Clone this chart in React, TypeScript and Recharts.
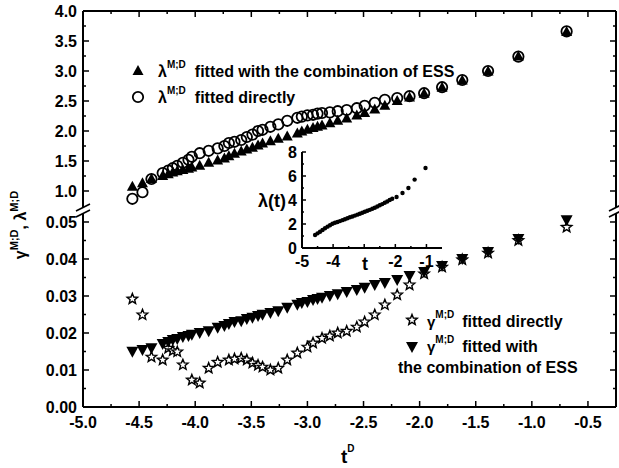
import React from 'react';
import { ScatterChart, Scatter, XAxis, YAxis } from 'recharts';

// t^D grid shared by the four main series
const tD = [
  -4.56, -4.47, -4.39, -4.29, -4.24, -4.2, -4.16, -4.11, -4.06, -4.03,
  -3.96, -3.88, -3.8, -3.74, -3.7, -3.65, -3.59, -3.54, -3.49, -3.44,
  -3.4, -3.33, -3.26, -3.18, -3.09, -3.05, -3.0, -2.95, -2.91, -2.87,
  -2.8, -2.73, -2.65, -2.56, -2.49, -2.4, -2.31, -2.2, -2.09, -1.96,
  -1.8, -1.62, -1.39, -1.12, -0.69,
];
const lambdaESS = [
  1.07, 1.13, 1.2, 1.25, 1.28, 1.31, 1.33, 1.35, 1.37, 1.39,
  1.42, 1.47, 1.51, 1.54, 1.58, 1.62, 1.66, 1.69, 1.72, 1.76,
  1.79, 1.83, 1.87, 1.91, 1.96, 1.99, 2.02, 2.05, 2.07, 2.09,
  2.13, 2.17, 2.21, 2.26, 2.3, 2.36, 2.42, 2.5, 2.56, 2.62,
  2.72, 2.84, 2.99, 3.24, 3.65,
];
const lambdaDirect = [
  0.87, 0.98, 1.2, 1.3, 1.34, 1.38, 1.42, 1.47, 1.52, 1.57,
  1.63, 1.67, 1.71, 1.75, 1.8, 1.82, 1.85, 1.9, 1.94, 2.0,
  2.02, 2.07, 2.11, 2.17, 2.22, 2.24, 2.26, 2.27, 2.29, 2.3,
  2.31, 2.33, 2.35, 2.38, 2.42, 2.47, 2.52, 2.55, 2.58, 2.63,
  2.73, 2.85, 3.0, 3.24, 3.66,
];
const gammaESS = [
  0.0149, 0.0154, 0.0159, 0.017, 0.0176, 0.0181, 0.0184, 0.0189, 0.0192, 0.0195,
  0.02, 0.0205, 0.0214, 0.0219, 0.0224, 0.023, 0.0232, 0.0238, 0.0241, 0.0246,
  0.0249, 0.0254, 0.0259, 0.0268, 0.0276, 0.0281, 0.0284, 0.0289, 0.0292, 0.0295,
  0.03, 0.0305, 0.0311, 0.0316, 0.0322, 0.033, 0.0335, 0.0343, 0.0354, 0.0365,
  0.0381, 0.04, 0.0419, 0.0454, 0.0505,
];
const gammaDirect = [
  0.0292, 0.0249, 0.0135, 0.0127, 0.0159, 0.0152, 0.0149, 0.0114, null, 0.0073,
  0.0065, 0.0105, 0.0121, null, 0.0127, 0.013, 0.0132, 0.0127, 0.0119, 0.0113,
  0.0108, 0.01, 0.0105, 0.0127, 0.0146, null, 0.0162, 0.0173, null, 0.0186,
  0.0192, 0.02, 0.0205, 0.0216, 0.023, 0.0249, 0.0276, 0.0303, 0.033, 0.036,
  0.0378, 0.0398, 0.0416, 0.045, 0.0486,
];

// inset: lambda(t)
const insetT = [
  -4.58, -4.5, -4.42, -4.34, -4.26, -4.18, -4.1, -4.02, -3.94, -3.86,
  -3.78, -3.7, -3.62, -3.54, -3.46, -3.38, -3.3, -3.22, -3.14, -3.06,
  -2.98, -2.9, -2.82, -2.74, -2.66, -2.58, -2.5, -2.42, -2.34, -2.26,
  -2.18, -2.1, -1.96, -1.77, -1.58, -1.38, -1.03,
];
const insetLambda = [
  1.08, 1.22, 1.36, 1.5, 1.64, 1.78, 1.9, 2.02, 2.1, 2.17,
  2.24, 2.32, 2.4, 2.48, 2.56, 2.63, 2.7, 2.78, 2.86, 2.94,
  3.02, 3.1, 3.18, 3.27, 3.36, 3.46, 3.56, 3.66, 3.77, 3.88,
  4.0, 4.1, 4.25, 4.58, 5.0, 5.7, 6.67,
];

// ticks
const xTicks = [-5, -4.75, -4.5, -4.25, -4, -3.75, -3.5, -3.25, -3, -2.75, -2.5, -2.25, -2, -1.75, -1.5, -1.25, -1, -0.75, -0.5];
const xMajor = [-5, -4.5, -4, -3.5, -3, -2.5, -2, -1.5, -1, -0.5];
const upperTicks = [1, 1.25, 1.5, 1.75, 2, 2.25, 2.5, 2.75, 3, 3.25, 3.5, 3.75, 4];
const upperMajor = [1, 1.5, 2, 2.5, 3, 3.5, 4];
const lowerTicks = [0, 0.005, 0.01, 0.015, 0.02, 0.025, 0.03, 0.035, 0.04, 0.045, 0.05];
const lowerMajor = [0, 0.01, 0.02, 0.03, 0.04, 0.05];
const insetXTicks = [-5, -4.5, -4, -3.5, -3, -2.5, -2, -1.5, -1];
const insetXMajor = [-5, -4, -3, -2, -1];
const insetXLabels = ['-5', '-4', '', '-2', '-1'];
const insetYTicks = [0, 1, 2, 3, 4, 5, 6, 7, 8];
const insetYMajor = [0, 2, 4, 6, 8];

const FONT = '"Liberation Sans", Arial, Helvetica, sans-serif';

const pairs = (xs: number[], ys: (number | null)[]) =>
  xs.map((x, i) => ({ x, y: ys[i] })).filter((d) => d.y !== null);

const triData = pairs(tD, lambdaESS);
const circData = pairs(tD, lambdaDirect);
const starData = pairs(tD, gammaDirect);
const downData = pairs(tD, gammaESS);
const insetData = pairs(insetT, insetLambda);

type Side = 'left' | 'right' | 'top' | 'bottom';
type TickOpts = { side: Side; majors: number[]; fmt?: (v: number) => string; major: number; minor: number; gap: number; size: number };

function makeTick(o: TickOpts) {
  return function Tick(props: any) {
    const { x, y, payload } = props;
    const v = payload.value;
    const isMajor = o.majors.some((m) => Math.abs(m - v) < 1e-6);
    const len = isMajor ? o.major : o.minor;
    const label = isMajor && o.fmt ? o.fmt(v) : '';
    const ls = { stroke: '#000', strokeWidth: 1.5 };
    let line;
    let text = null;
    if (o.side === 'left') {
      line = <line x1={x} y1={y} x2={x + len} y2={y} {...ls} />;
      if (label)
        text = (
          <text x={x - o.gap} y={y} dy="0.36em" textAnchor="end" fontSize={o.size} fontWeight="bold" fontFamily={FONT} fill="#000">
            {label}
          </text>
        );
    } else if (o.side === 'right') {
      line = <line x1={x} y1={y} x2={x - len} y2={y} {...ls} />;
    } else if (o.side === 'top') {
      line = <line x1={x} y1={y} x2={x} y2={y + len} {...ls} />;
    } else {
      line = <line x1={x} y1={y} x2={x} y2={y - len} {...ls} />;
      if (label)
        text = (
          <text x={x} y={y + o.gap} textAnchor="middle" fontSize={o.size} fontWeight="bold" fontFamily={FONT} fill="#000">
            {label}
          </text>
        );
    }
    return (
      <g>
        {line}
        {text}
      </g>
    );
  };
}

const fmt1 = (v: number) => v.toFixed(1);
const fmt2 = (v: number) => v.toFixed(2);
const insetFmt = (v: number) => insetXLabels[insetXMajor.findIndex((m) => Math.abs(m - v) < 1e-6)];

const axisLine = { stroke: '#000', strokeWidth: 2 };
const common = { tickSize: 0, tickMargin: 0, tickLine: false, interval: 0 as const, allowDataOverflow: true, axisLine };

const TriUp = (p: any) => (
  <polygon points={`${p.cx},${p.cy - 6} ${p.cx + 5.5},${p.cy + 4} ${p.cx - 5.5},${p.cy + 4}`} fill="#000" />
);
const TriDown = (p: any) => (
  <polygon points={`${p.cx - 6},${p.cy - 5} ${p.cx + 6},${p.cy - 5} ${p.cx},${p.cy + 6}`} fill="#000" />
);
const OpenCircle = (p: any) => <circle cx={p.cx} cy={p.cy} r={5.2} fill="none" stroke="#000" strokeWidth={1.8} />;
const Star = (p: any) => {
  const pts: string[] = [];
  for (let i = 0; i < 10; i++) {
    const r = i % 2 === 0 ? 5.5 : 2.4;
    const a = -Math.PI / 2 + (i * Math.PI) / 5;
    pts.push(`${p.cx + r * Math.cos(a)},${p.cy + r * Math.sin(a)}`);
  }
  return <polygon points={pts.join(' ')} fill="#fff" stroke="#000" strokeWidth={1.4} />;
};
const Dot = (p: any) => <circle cx={p.cx} cy={p.cy} r={2.2} fill="#000" />;

export default function App() {
  const zero = { top: 0, right: 0, bottom: 0, left: 0 };
  return (
    <div style={{ position: 'absolute', left: 0, top: 0, width: 619, height: 468, background: '#fff', fontFamily: FONT }}>
      {/* upper panel: lambda */}
      <div style={{ position: 'absolute', left: 0, top: 0 }}>
        <ScatterChart width={619} height={209} margin={zero}>
          <XAxis type="number" dataKey="x" orientation="top" height={11} domain={[-5, -0.25]} ticks={xTicks} {...common}
            tick={makeTick({ side: 'top', majors: xMajor, major: 6, minor: 3, gap: 0, size: 16 })} />
          <YAxis yAxisId="l" type="number" dataKey="y" width={83} domain={[0.7, 4]} ticks={upperTicks} {...common}
            tick={makeTick({ side: 'left', majors: upperMajor, fmt: fmt1, major: 6, minor: 3, gap: 6, size: 16 })} />
          <YAxis yAxisId="r" orientation="right" type="number" width={3} domain={[0.7, 4]} ticks={upperTicks} {...common}
            tick={makeTick({ side: 'right', majors: upperMajor, major: 6, minor: 3, gap: 0, size: 16 })} />
          <Scatter yAxisId="l" data={triData} shape={TriUp} isAnimationActive={false} />
          <Scatter yAxisId="l" data={circData} shape={OpenCircle} isAnimationActive={false} />
        </ScatterChart>
      </div>

      {/* lower panel: gamma */}
      <div style={{ position: 'absolute', left: 0, top: 212 }}>
        <ScatterChart width={619} height={256} margin={zero}>
          <XAxis type="number" dataKey="x" orientation="bottom" height={61} domain={[-5, -0.25]} ticks={xTicks} {...common}
            tick={makeTick({ side: 'bottom', majors: xMajor, fmt: fmt1, major: 6, minor: 3, gap: 21, size: 16 })} />
          <YAxis yAxisId="l" type="number" dataKey="y" width={83} domain={[0, 0.0527]} ticks={lowerTicks} {...common}
            tick={makeTick({ side: 'left', majors: lowerMajor, fmt: fmt2, major: 6, minor: 3, gap: 6, size: 16 })} />
          <YAxis yAxisId="r" orientation="right" type="number" width={3} domain={[0, 0.0527]} ticks={lowerTicks} {...common}
            tick={makeTick({ side: 'right', majors: lowerMajor, major: 6, minor: 3, gap: 0, size: 16 })} />
          <Scatter yAxisId="l" data={starData} shape={Star} isAnimationActive={false} />
          <Scatter yAxisId="l" data={downData} shape={TriDown} isAnimationActive={false} />
        </ScatterChart>
      </div>

      {/* inset */}
      <div style={{ position: 'absolute', left: 230, top: 140 }}>
        <ScatterChart width={215} height={133} margin={{ top: 12, right: 3, bottom: 0, left: 0 }}>
          <XAxis type="number" dataKey="x" orientation="bottom" height={25} domain={[-5, -0.5]} ticks={insetXTicks} {...common}
            tick={makeTick({ side: 'bottom', majors: insetXMajor, fmt: insetFmt, major: 4, minor: 2, gap: 19, size: 16 })} />
          <XAxis xAxisId="t" type="number" orientation="top" height={0} domain={[-5, -0.5]} ticks={insetXTicks} {...common}
            tick={makeTick({ side: 'top', majors: insetXMajor, major: 4, minor: 2, gap: 0, size: 16 })} />
          <YAxis type="number" dataKey="y" width={72} domain={[0, 8]} ticks={insetYTicks} {...common}
            tick={makeTick({ side: 'left', majors: insetYMajor, fmt: (v) => String(v), major: 4, minor: 2, gap: 5, size: 16 })} />
          <YAxis yAxisId="r" orientation="right" type="number" width={0} domain={[0, 8]} ticks={insetYTicks} {...common}
            tick={makeTick({ side: 'right', majors: insetYMajor, major: 4, minor: 2, gap: 0, size: 16 })} />
          <Scatter data={insetData} shape={Dot} isAnimationActive={false} />
        </ScatterChart>
      </div>

      {/* labels, legends, axis breaks */}
      <svg width={619} height={468} style={{ position: 'absolute', left: 0, top: 0, pointerEvents: 'none' }}
        fontFamily={FONT} fontWeight="bold" fill="#000">
        {[83, 616].map((bx) => (
          <g key={bx}>
            <rect x={bx - 4} y={207} width={8} height={7} fill="#fff" />
            <line x1={bx - 7} y1={211} x2={bx + 7} y2={204} stroke="#000" strokeWidth={1.6} />
            <line x1={bx - 7} y1={217} x2={bx + 7} y2={210} stroke="#000" strokeWidth={1.6} />
          </g>
        ))}

        <TriUp cx={138} cy={71} />
        <text x={158} y={77} fontSize={16}>
          λ<tspan fontSize={10} dy={-9}>M;D</tspan>
          <tspan dy={9} dx={9}>fitted with the combination of ESS</tspan>
        </text>
        <OpenCircle cx={138} cy={97} />
        <text x={158} y={103} fontSize={16}>
          λ<tspan fontSize={10} dy={-9}>M;D</tspan>
          <tspan dy={9} dx={9}>fitted directly</tspan>
        </text>

        <Star cx={412} cy={320} />
        <text x={427} y={327} fontSize={15}>
          γ<tspan fontSize={10} dy={-9}>M;D</tspan>
          <tspan dy={9} dx={8} fontSize={16}>fitted directly</tspan>
        </text>
        <TriDown cx={412} cy={347} />
        <text x={427} y={352} fontSize={15}>
          γ<tspan fontSize={10} dy={-9}>M;D</tspan>
          <tspan dy={9} dx={8} fontSize={16}>fitted with</tspan>
        </text>
        <text x={398} y={373} fontSize={16}>the combination of ESS</text>

        <text transform="rotate(-90)" x={-225} y={26} textAnchor="middle" fontSize={16}>
          γ<tspan fontSize={11} dy={-8}>M;D</tspan>
          <tspan dy={8}>, λ</tspan>
          <tspan fontSize={11} dy={-8}>M;D</tspan>
        </text>

        <text x={341} y={463} fontSize={19}>
          t<tspan fontSize={10} dy={-11}>D</tspan>
        </text>

        <text x={286} y={207} fontSize={18} textAnchor="end">λ(t)</text>
        <text x={365} y={270} fontSize={18} textAnchor="middle">t</text>
      </svg>
    </div>
  );
}
